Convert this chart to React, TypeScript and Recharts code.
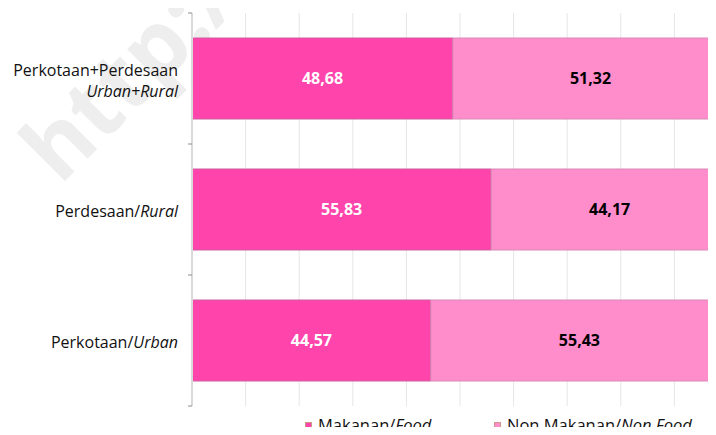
import React from "react";
import { Bar, BarChart, CartesianGrid, LabelList, Legend, XAxis, YAxis } from "recharts";

const categoriesId = ["Perkotaan+Perdesaan", "Perdesaan", "Perkotaan"];
const categoriesEn = ["Urban+Rural", "Rural", "Urban"];
const foodShare = [48.68, 55.83, 44.57];
const nonFoodShare = [51.32, 44.17, 55.43];
const xTicks = [0, 10, 20, 30, 40, 50, 60, 70, 80, 90, 100];
const seriesNames = [
  { id: "Makanan", en: "Food", color: "#ff45ab" },
  { id: "Non Makanan", en: "Non Food", color: "#ff8dcc" },
];

const data = categoriesId.map((name, i) => ({
  name,
  en: categoriesEn[i],
  food: foodShare[i],
  nonFood: nonFoodShare[i],
}));

const FONT = "'Open Sans', Lato, sans-serif";
const TICK_GAP = 14;

const fmt = (v: any) => Number(v).toFixed(2).replace(".", ",");

function CategoryTick({ x, y, payload, index }: any) {
  const row = data[index] ?? data.find((d) => d.name === payload.value);
  const en = row ? row.en : "";
  const half = payload.offset || 0;
  const ax = x + TICK_GAP;
  // small marks on the band edges, as in Excel
  const marks = (
    <g stroke="#8c8c8c" strokeWidth={1}>
      <line x1={ax - 4} x2={ax} y1={y - half} y2={y - half} />
      {index === data.length - 1 && <line x1={ax - 4} x2={ax} y1={y + half} y2={y + half} />}
    </g>
  );
  if (payload.value.length > 12) {
    return (
      <g>
        {marks}
        <text x={x} y={y} textAnchor="end" fontSize={16} fill="#111" fontFamily={FONT}>
          <tspan x={x} dy={-3}>{payload.value}</tspan>
          <tspan x={x} dy={21} fontStyle="italic">{en}</tspan>
        </text>
      </g>
    );
  }
  return (
    <g>
      {marks}
      <text x={x} y={y} dy={7} textAnchor="end" fontSize={16} fill="#111" fontFamily={FONT}>
        {payload.value}/<tspan fontStyle="italic">{en}</tspan>
      </text>
    </g>
  );
}

function LegendBox() {
  return (
    <div style={{ display: "flex", fontFamily: FONT, fontSize: 16.5, lineHeight: "20px", color: "#111", paddingLeft: 305 }}>
      {seriesNames.map((s) => (
        <div key={s.id} style={{ display: "flex", alignItems: "center", width: 189 }}>
          <span style={{ width: 7, height: 7, background: s.color, border: "1px solid #c98", boxSizing: "border-box", marginRight: 6, flex: "none" }} />
          <span style={{ whiteSpace: "nowrap" }}>
            {s.id}/<i>{s.en}</i>
          </span>
        </div>
      ))}
    </div>
  );
}

export default function App() {
  return (
    <div style={{ margin: -8, width: 716, height: 435, overflow: "hidden", position: "relative", background: "#fff" }}>
      <svg width={716} height={435} style={{ position: "absolute", left: 0, top: 0 }}>
        <text
          x={60}
          y={186}
          transform="rotate(-45 60 186)"
          fontFamily="'Open Sans', sans-serif"
          fontWeight="bold"
          fontSize={90}
          fill="#eeeeee"
        >
          http://www.bps.go.id
        </text>
      </svg>
      <div style={{ position: "absolute", left: 0, top: 0 }}>
        <BarChart
          width={740}
          height={435}
          data={data}
          layout="vertical"
          margin={{ top: 13, right: 12, bottom: 29, left: 0 }}
        >
          <CartesianGrid horizontal={false} stroke="#e6e6e6" />
          <XAxis type="number" domain={[0, 100]} ticks={xTicks} hide />
          <YAxis
            type="category"
            dataKey="name"
            width={192}
            axisLine={{ stroke: "#d9d9d9", strokeWidth: 2 }}
            tickLine={false}
            tickSize={0}
            tickMargin={TICK_GAP}
            tick={<CategoryTick />}
          />
          <Legend
            verticalAlign="middle"
            align="center"
            content={<LegendBox />}
            wrapperStyle={{ top: 415, left: 0, width: 740 }}
          />
          <Bar dataKey="food" stackId="a" fill="#ff45ab" stroke="#cf5f9f" strokeWidth={1} barSize={81} isAnimationActive={false}>
            <LabelList dataKey="food" position="center" fill="#fff" fontSize={16} fontWeight="bold" fontFamily={FONT} formatter={fmt} />
          </Bar>
          <Bar dataKey="nonFood" stackId="a" fill="#ff8dcc" stroke="#d98ab5" strokeWidth={1} barSize={81} isAnimationActive={false}>
            <LabelList dataKey="nonFood" position="center" fill="#000" fontSize={16} fontWeight="bold" fontFamily={FONT} formatter={fmt} />
          </Bar>
        </BarChart>
      </div>
    </div>
  );
}
